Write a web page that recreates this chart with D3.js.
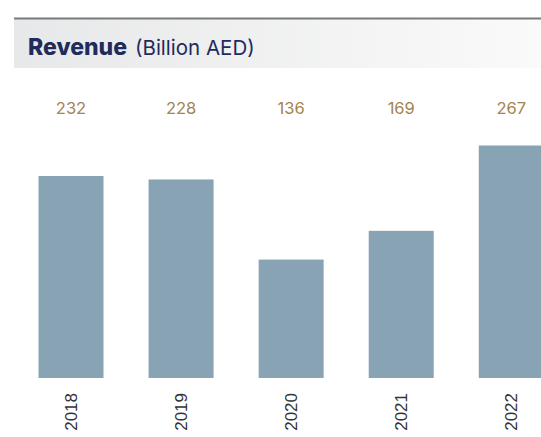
<!DOCTYPE html>
<html>
<head>
<meta charset="utf-8">
<script src="https://cdn.jsdelivr.net/npm/d3@7"></script>
<style>
  body { margin: 0; background: #fff; }
</style>
</head>
<body>
<div id="chart"></div>
<script>
// chart data
const years = ["2018", "2019", "2020", "2021", "2022"];
const revenue = [232, 228, 136, 169, 267];

const W = 541, H = 437;
const svg = d3.select("#chart").append("svg")
    .attr("width", W)
    .attr("height", H);

// header band with soft gradient
const defs = svg.append("defs");
const grad = defs.append("linearGradient").attr("id", "hdr");
grad.append("stop").attr("offset", "0%").attr("stop-color", "#e7e8e9");
grad.append("stop").attr("offset", "100%").attr("stop-color", "#fafafa");

svg.append("rect")
    .attr("x", 14).attr("y", 19)
    .attr("width", W - 14).attr("height", 49)
    .attr("fill", "url(#hdr)");
svg.append("line")
    .attr("x1", 14).attr("x2", W)
    .attr("y1", 18.5).attr("y2", 18.5)
    .attr("stroke", "#7a7a7a")
    .attr("stroke-width", 2);

const title = svg.append("text")
    .attr("x", 28).attr("y", 55)
    .style("font-family", "Inter, 'Open Sans', sans-serif")
    .attr("fill", "#1f2b5c");
title.append("tspan")
    .style("font-size", "23px")
    .style("font-weight", "800")
    .text("Revenue");
title.append("tspan")
    .style("font-size", "20.5px")
    .attr("dx", 8)
    .text("(Billion AED)");

// scales
const xScale = d3.scaleBand()
    .domain(years)
    .range([16.5, 565.8])
    .paddingInner(0.4095)
    .paddingOuter(0.2);

const yScale = d3.scaleLinear()
    .domain([0, 267])
    .range([378, 145.5]);

const data = years.map((y, i) => ({year: y, value: revenue[i]}));

svg.append("g")
    .selectAll("rect")
    .data(data)
    .join("rect")
    .attr("x", d => xScale(d.year))
    .attr("y", d => yScale(d.value))
    .attr("width", xScale.bandwidth())
    .attr("height", d => yScale(0) - yScale(d.value))
    .attr("fill", "#87a3b4");

// value labels above the chart
svg.append("g")
    .selectAll("text")
    .data(data)
    .join("text")
    .attr("x", d => xScale(d.year) + xScale.bandwidth() / 2)
    .attr("y", 114)
    .attr("text-anchor", "middle")
    .style("font-family", "Inter, 'Open Sans', sans-serif")
    .style("font-size", "16.5px")
    .attr("fill", "#a2844f")
    .text(d => d.value);

// x axis with rotated year labels
const xAxis = svg.append("g")
    .attr("transform", "translate(0,378)")
    .call(d3.axisBottom(xScale).tickSize(0).tickPadding(0));
xAxis.select(".domain").remove();
xAxis.selectAll("text")
    .attr("transform", "rotate(-90)")
    .attr("text-anchor", "end")
    .attr("x", -15)
    .attr("y", 0)
    .attr("dy", "0.35em")
    .style("font-family", "'Liberation Sans', Arial, sans-serif")
    .style("font-size", "17px")
    .attr("fill", "#333");
</script>
</body>
</html>
